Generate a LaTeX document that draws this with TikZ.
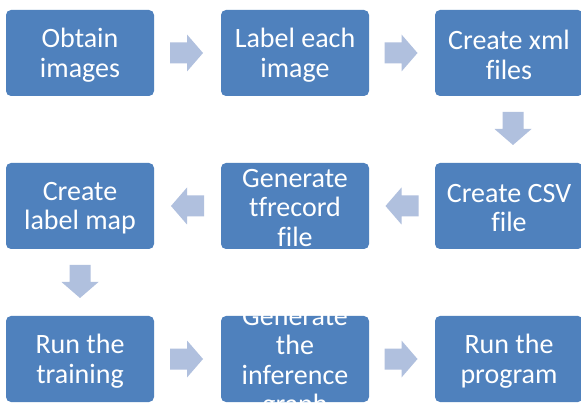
\documentclass[tikz,border=0pt]{standalone}
\usepackage{fontspec}
\setmainfont[Ligatures={NoCommon}]{Carlito}
\usetikzlibrary{calc}
\definecolor{boxblue}{RGB}{79,129,189}
\definecolor{arrowblue}{RGB}{176,192,222}
\newcommand{\blockarr}[2]{%
  \fill[arrowblue, shift={#1}, rotate=#2]
    (-16.5,-10.5) -- (0.5,-10.5) -- (0.5,-18.5) -- (16.5,0) -- (0.5,18.5) -- (0.5,10.5) -- (-16.5,10.5) -- cycle;}
\begin{document}
\begin{tikzpicture}[x=1pt,y=-1pt,
  stepbox/.style={fill=boxblue, rounded corners=5pt, minimum width=148pt, minimum height=86pt,
    inner sep=0pt},
  steptext/.style={inner sep=0pt, text=white, align=center, yshift=-2pt, font=\fontsize{28}{29.5}\selectfont}]
\useasboundingbox (0,0) rectangle (581,403);
\clip (0,0) rectangle (581,403);
\fill[white] (0,0) rectangle (581,403);
\node[stepbox] (n1) at (80,53) {};
\node[stepbox] (n2) at (295,53) {};
\node[stepbox] (n3) at (509,53) {};
\node[stepbox] (n4) at (509,206) {};
\node[stepbox] (n5) at (295,206) {};
\node[stepbox] (n6) at (80,206) {};
\node[stepbox] (n7) at (80,359) {};
\node[stepbox] (n8) at (295,359) {};
\node[stepbox] (n9) at (509,359) {};
\node[steptext] (t1) at (n1) {Obtain\\images};
\node[steptext] (t2) at (n2) {Label each\\image};
\node[steptext] (t3) at (n3) {Create xml\\files};
\node[steptext] (t4) at (n4) {Create CSV\\file};
\node[steptext] (t5) at (n5) {Generate\\tfrecord\\file};
\node[steptext] (t6) at (n6) {Create\\label map};
\node[steptext] (t7) at (n7) {Run the\\training};
\node[steptext, yshift=-2pt] (t8) at (n8) {Generate\\the\\inference\\graph};
\node[steptext] (t9) at (n9) {Run the\\program};
\blockarr{($(n1.east)!0.5!(n2.west)+(-1,0)$)}{0}
\blockarr{($(n2.east)!0.5!(n3.west)+(-1,0)$)}{0}
\blockarr{($(n3.south)!0.5!(n4.north)+(4,-1)$)}{-90}
\blockarr{($(n4.west)!0.5!(n5.east)$)}{180}
\blockarr{($(n5.west)!0.5!(n6.east)$)}{180}
\blockarr{($(n6.south)!0.5!(n7.north)+(0,-1)$)}{-90}
\blockarr{($(n7.east)!0.5!(n8.west)+(-1,0)$)}{0}
\blockarr{($(n8.east)!0.5!(n9.west)+(-1,0)$)}{0}
\end{tikzpicture}
\end{document}
